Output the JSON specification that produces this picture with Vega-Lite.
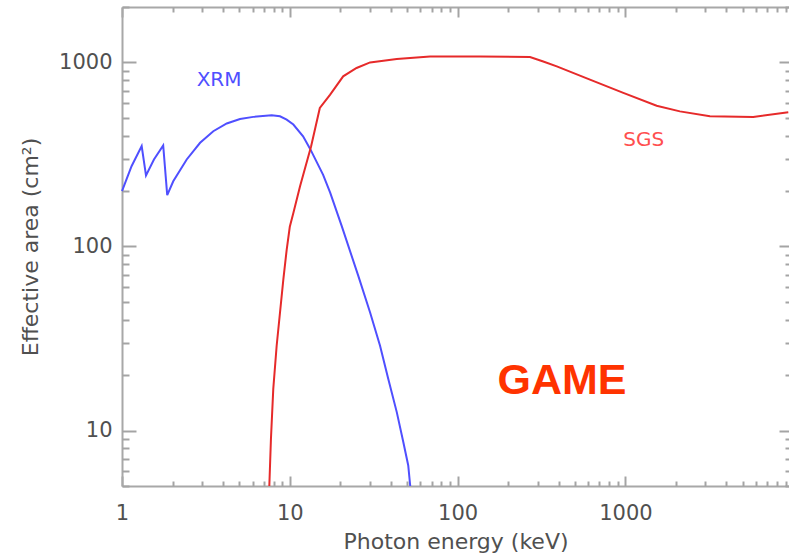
{
  "$schema": "https://vega.github.io/schema/vega-lite/v6.json",
  "autosize": "none",
  "padding": {"left": 122, "top": 7, "right": 0, "bottom": 72},
  "width": 667,
  "height": 479,
  "background": "white",
  "config": {
    "view": {"stroke": null},
    "axis": {
      "grid": false,
      "domainColor": "#a8a8a8",
      "domainWidth": 2,
      "tickColor": "#a4a4a4",
      "tickWidth": 2,
      "labelFont": "DejaVu Sans",
      "labelFontSize": 21,
      "labelColor": "#505050",
      "titleFont": "DejaVu Sans",
      "titleFontSize": 22,
      "titleFontWeight": "normal",
      "titleColor": "#505050",
      "labelOverlap": false,
      "labelFlush": false
    }
  },
  "resolve": {"axis": {"x": "independent", "y": "independent"}},
  "datasets": {
    "xrm": [
      {"E": 1.0, "A": 200},
      {"E": 1.14, "A": 273},
      {"E": 1.31, "A": 351},
      {"E": 1.39, "A": 243},
      {"E": 1.55, "A": 297},
      {"E": 1.76, "A": 354},
      {"E": 1.86, "A": 190},
      {"E": 2.02, "A": 226},
      {"E": 2.43, "A": 297},
      {"E": 2.92, "A": 366},
      {"E": 3.5, "A": 423},
      {"E": 4.21, "A": 466},
      {"E": 5.05, "A": 493},
      {"E": 6.06, "A": 506},
      {"E": 7.8, "A": 516},
      {"E": 8.74, "A": 510},
      {"E": 9.58, "A": 489},
      {"E": 10.5, "A": 460},
      {"E": 12.0, "A": 397},
      {"E": 13.2, "A": 340},
      {"E": 15.8, "A": 245},
      {"E": 17.4, "A": 196},
      {"E": 20.4, "A": 129},
      {"E": 25.6, "A": 69.2},
      {"E": 30.1, "A": 43.8},
      {"E": 34.5, "A": 28.9},
      {"E": 38.6, "A": 19.1},
      {"E": 43.4, "A": 12.6},
      {"E": 47.5, "A": 8.65},
      {"E": 50.8, "A": 6.46},
      {"E": 52.2, "A": 5.0}
    ],
    "sgs": [
      {"E": 7.55, "A": 5},
      {"E": 7.72, "A": 9},
      {"E": 7.97, "A": 16.8},
      {"E": 8.35, "A": 28.9},
      {"E": 9.15, "A": 66},
      {"E": 9.58, "A": 96},
      {"E": 10.0, "A": 128},
      {"E": 10.5, "A": 152},
      {"E": 11.5, "A": 212},
      {"E": 13.4, "A": 350},
      {"E": 15.1, "A": 566},
      {"E": 17.4, "A": 668},
      {"E": 20.8, "A": 840},
      {"E": 25.0, "A": 933},
      {"E": 30.1, "A": 1000},
      {"E": 43.4, "A": 1043},
      {"E": 68.5, "A": 1078},
      {"E": 136, "A": 1078},
      {"E": 270, "A": 1070},
      {"E": 324, "A": 1012},
      {"E": 390, "A": 951},
      {"E": 615, "A": 806},
      {"E": 972, "A": 683},
      {"E": 1536, "A": 582},
      {"E": 2113, "A": 542},
      {"E": 3190, "A": 510},
      {"E": 5780, "A": 506},
      {"E": 9350, "A": 536}
    ]
  },
  "layer": [
    {
      "data": {"name": "xrm"},
      "mark": {"type": "line", "color": "#4f4fff", "strokeWidth": 2},
      "encoding": {
        "x": {
          "field": "E", "type": "quantitative",
          "scale": {"type": "log", "domain": [1, 9441], "nice": false},
          "axis": {
            "orient": "bottom",
            "title": "Photon energy (keV)",
            "titlePadding": 8,
            "values": [1, 10, 100, 1000],
            "format": "d",
            "ticks": false,
            "labelPadding": 16
          }
        },
        "y": {
          "field": "A", "type": "quantitative",
          "scale": {"type": "log", "domain": [5, 2000], "nice": false},
          "axis": {
            "orient": "left",
            "title": "Effective area (cm²)",
            "titlePadding": 16,
            "values": [10, 100, 1000],
            "format": "d",
            "ticks": false,
            "labelPadding": 10
          }
        }
      }
    },
    {
      "data": {"name": "sgs"},
      "mark": {"type": "line", "color": "#e62a2a", "strokeWidth": 2},
      "encoding": {
        "x": {
          "field": "E", "type": "quantitative",
          "scale": {"type": "log", "domain": [1, 9441], "nice": false},
          "axis": {"orient": "top", "title": null, "labels": false, "ticks": false, "values": [1, 10, 100, 1000]}
        },
        "y": {
          "field": "A", "type": "quantitative",
          "scale": {"type": "log", "domain": [5, 2000], "nice": false},
          "axis": {"orient": "right", "title": null, "labels": false, "domain": false, "values": [10, 100, 1000], "tickSize": 10, "offset": -10}
        }
      }
    },
    {
      "data": {"values": [{}]},
      "mark": {"type": "text", "text": "XRM", "color": "#4f4fff", "font": "DejaVu Sans", "fontSize": 20},
      "encoding": {
        "x": {"datum": 3.79, "type": "quantitative", "scale": {"type": "log", "domain": [1, 9441], "nice": false},
          "axis": {"orient": "bottom", "title": null, "labels": false, "domain": false, "values": [1, 10, 100, 1000], "tickSize": 10, "offset": -10}},
        "y": {"datum": 806, "type": "quantitative", "scale": {"type": "log", "domain": [5, 2000], "nice": false},
          "axis": {"orient": "left", "title": null, "labels": false, "domain": false, "values": [10, 100, 1000], "tickSize": 14, "offset": -14}}
      }
    },
    {
      "data": {"values": [{}]},
      "mark": {"type": "text", "text": "SGS", "color": "#ff4f4f", "font": "DejaVu Sans", "fontSize": 20},
      "encoding": {
        "x": {"datum": 1286, "type": "quantitative", "scale": {"type": "log", "domain": [1, 9441], "nice": false},
          "axis": {"orient": "bottom", "title": null, "labels": false, "domain": false, "values": [2,3,4,5,6,7,8,9,20,30,40,50,60,70,80,90,200,300,400,500,600,700,800,900,2000,3000,4000,5000,6000,7000,8000,9000], "tickSize": 5, "offset": -5}},
        "y": {"datum": 381, "type": "quantitative", "scale": {"type": "log", "domain": [5, 2000], "nice": false},
          "axis": {"orient": "left", "title": null, "labels": false, "domain": false, "values": [5,6,7,8,9,20,30,40,50,60,70,80,90,200,300,400,500,600,700,800,900,2000], "tickSize": 7, "offset": -7}}
      }
    },
    {
      "data": {"values": [{}]},
      "mark": {"type": "text", "text": "GAME", "color": "#ff3300", "font": "Liberation Sans", "fontWeight": "bold", "fontSize": 43},
      "encoding": {
        "x": {"datum": 419, "type": "quantitative", "scale": {"type": "log", "domain": [1, 9441], "nice": false},
          "axis": {"orient": "top", "title": null, "labels": false, "domain": false, "values": [1, 10, 100, 1000], "tickSize": 10, "offset": -10}},
        "y": {"datum": 18.6, "type": "quantitative", "scale": {"type": "log", "domain": [5, 2000], "nice": false},
          "axis": {"orient": "right", "title": null, "labels": false, "domain": false, "values": [5,6,7,8,9,20,30,40,50,60,70,80,90,200,300,400,500,600,700,800,900,2000], "tickSize": 4, "offset": -4}}
      }
    },
    {
      "data": {"values": [{}]},
      "mark": {"type": "text", "text": ""},
      "encoding": {
        "x": {"datum": 100, "type": "quantitative", "scale": {"type": "log", "domain": [1, 9441], "nice": false},
          "axis": {"orient": "top", "title": null, "labels": false, "domain": false, "values": [2,3,4,5,6,7,8,9,20,30,40,50,60,70,80,90,200,300,400,500,600,700,800,900,2000,3000,4000,5000,6000,7000,8000,9000], "tickSize": 5, "offset": -5}},
        "y": {"datum": 100, "type": "quantitative", "scale": {"type": "log", "domain": [5, 2000], "nice": false}, "axis": null}
      }
    }
  ]
}
